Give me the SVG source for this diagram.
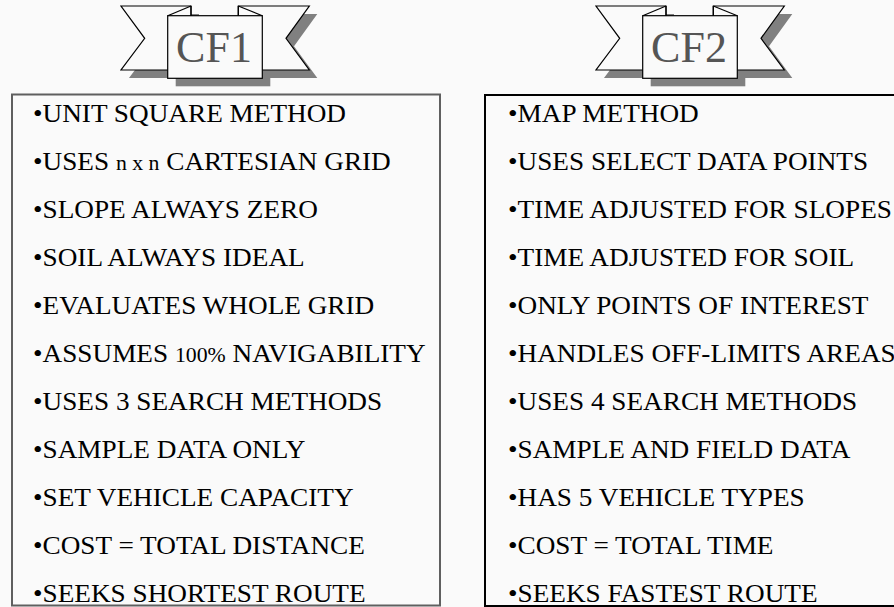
<svg xmlns="http://www.w3.org/2000/svg" width="894" height="607" viewBox="0 0 894 607">
<style>
.bg{fill:#fafafa}
.sh{fill:#808080;stroke:none}
.rib{fill:#fafafa;stroke:#000;stroke-width:1.2;stroke-linejoin:miter}
.fold{stroke:#000;stroke-width:1.2;fill:none}
.cf{font-family:"Liberation Serif","Times New Roman",serif;font-size:44px;fill:#555555;text-anchor:middle}
.it{font-family:"Liberation Serif","Times New Roman",serif;font-size:25px;fill:#000}
.sm{font-size:20px}
.box1{fill:#fafafa;stroke:#5f5f5f;stroke-width:2}
.box2{fill:#fafafa;stroke:#000;stroke-width:2}
</style>
<defs>
<g id="banner">
<polygon class="sh" points="129,14 199,14 199,78 129,78 152.7,46.3"/>
<polygon class="sh" points="246.3,14 317.3,14 294,46.3 317.3,78 246.3,78"/>
<rect class="sh" x="175.7" y="23.7" width="94.6" height="62.6"/>
<polygon class="rib" points="121,6 191,6 191,70 121,70 144.7,38.3"/>
<polygon class="rib" points="238.3,6 309.3,6 286,38.3 309.3,70 238.3,70"/>
<rect class="rib" x="167.7" y="15.7" width="94.6" height="62.6"/>
<line class="fold" x1="167.7" y1="15.7" x2="191" y2="6"/>
<line class="fold" x1="191" y1="6" x2="191" y2="15.7"/>
<line class="fold" x1="238.3" y1="6" x2="262.3" y2="15.7"/>
<line class="fold" x1="238.3" y1="6" x2="238.3" y2="15.7"/>
</g>
</defs>
<rect class="bg" x="0" y="0" width="894" height="607"/>
<g id="cf1-banner">
<use href="#banner"/>
<text class="cf" x="214" y="61.7">CF1</text>
</g>
<g id="cf2-banner">
<use href="#banner" transform="translate(475 0)"/>
<text class="cf" x="689" y="61.7">CF2</text>
</g>
<g id="cf1-list">
<rect class="box1" x="12" y="94.5" width="428" height="511"/>
<text class="it" transform="translate(33 121.7) scale(1.09 1)">•UNIT SQUARE METHOD</text>
<text class="it" transform="translate(33 169.7) scale(1.09 1)">•USES <tspan class="sm">n x n</tspan> CARTESIAN GRID</text>
<text class="it" transform="translate(33 217.7) scale(1.09 1)">•SLOPE ALWAYS ZERO</text>
<text class="it" transform="translate(33 265.7) scale(1.09 1)">•SOIL ALWAYS IDEAL</text>
<text class="it" transform="translate(33 313.7) scale(1.09 1)">•EVALUATES WHOLE GRID</text>
<text class="it" transform="translate(33 361.7) scale(1.09 1)">•ASSUMES <tspan class="sm">100%</tspan> NAVIGABILITY</text>
<text class="it" transform="translate(33 409.7) scale(1.09 1)">•USES 3 SEARCH METHODS</text>
<text class="it" transform="translate(33 457.7) scale(1.09 1)">•SAMPLE DATA ONLY</text>
<text class="it" transform="translate(33 505.7) scale(1.09 1)">•SET VEHICLE CAPACITY</text>
<text class="it" transform="translate(33 553.7) scale(1.09 1)">•COST = TOTAL DISTANCE</text>
<text class="it" transform="translate(33 601.7) scale(1.09 1)">•SEEKS SHORTEST ROUTE</text>
</g>
<g id="cf2-list">
<rect class="box2" x="485" y="95" width="430" height="511"/>
<text class="it" transform="translate(508 121.7) scale(1.09 1)">•MAP METHOD</text>
<text class="it" transform="translate(508 169.7) scale(1.09 1)">•USES SELECT DATA POINTS</text>
<text class="it" transform="translate(508 217.7) scale(1.09 1)">•TIME ADJUSTED FOR SLOPES</text>
<text class="it" transform="translate(508 265.7) scale(1.09 1)">•TIME ADJUSTED FOR SOIL</text>
<text class="it" transform="translate(508 313.7) scale(1.09 1)">•ONLY POINTS OF INTEREST</text>
<text class="it" transform="translate(508 361.7) scale(1.09 1)">•HANDLES OFF-LIMITS AREAS</text>
<text class="it" transform="translate(508 409.7) scale(1.09 1)">•USES 4 SEARCH METHODS</text>
<text class="it" transform="translate(508 457.7) scale(1.09 1)">•SAMPLE AND FIELD DATA</text>
<text class="it" transform="translate(508 505.7) scale(1.09 1)">•HAS 5 VEHICLE TYPES</text>
<text class="it" transform="translate(508 553.7) scale(1.09 1)">•COST = TOTAL TIME</text>
<text class="it" transform="translate(508 601.7) scale(1.09 1)">•SEEKS FASTEST ROUTE</text>
</g>
</svg>
